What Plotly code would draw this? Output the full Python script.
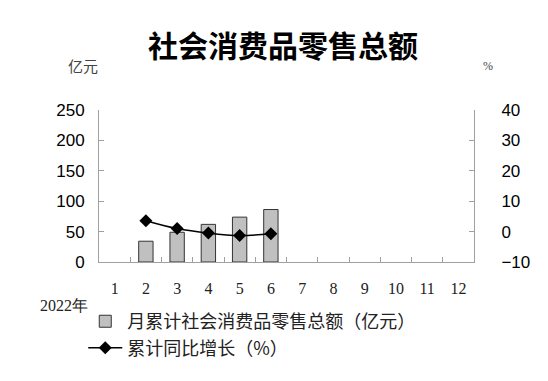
import plotly.graph_objects as go

months = ["1", "2", "3", "4", "5", "6", "7", "8", "9", "10", "11", "12"]
bar_months = ["2", "3", "4", "5", "6"]
retail_total = [34.2, 48.9, 61.9, 73.8, 86.3]   # 亿元
growth_rate = [3.6, 1.0, -0.5, -1.3, -0.7]      # %

title_text = "社会消费品零售总额"
bar_name = "月累计社会消费品零售总额（亿元）"
line_name = "累计同比增长（%）"

fig = go.Figure()
fig.add_trace(go.Bar(
    x=bar_months, y=retail_total, name=bar_name,
    marker=dict(color="#c0c0c0", line=dict(color="#333333", width=1)),
    width=0.46, yaxis="y",
))
fig.add_trace(go.Scatter(
    x=bar_months, y=growth_rate, name=line_name, mode="lines+markers",
    line=dict(color="black", width=1.5, shape="spline"),
    marker=dict(symbol="diamond", size=10, color="black"),
    yaxis="y2",
))

axis_gray = "#a0a0a0"
fig.update_layout(
    width=548, height=381,
    paper_bgcolor="white", plot_bgcolor="white",
    margin=dict(l=91, r=82, t=102, b=127),
    showlegend=True,
    legend=dict(
        x=-0.042, y=-0.27, xref="paper", yref="paper", xanchor="left", yanchor="top",
        orientation="v", bgcolor="rgba(0,0,0,0)",
        font=dict(family="Noto Sans CJK SC", size=18, color="#222222"),
        itemwidth=34, tracegroupgap=0, traceorder="normal",
    ),
    title=dict(
        text=title_text, x=0.502, xanchor="center", y=0.898, yanchor="middle",
        font=dict(family="Noto Sans CJK SC", size=30, color="black", weight="bold"),
    ),
    xaxis=dict(
        type="category", categoryorder="array", categoryarray=months,
        range=[-0.5, 11.5], showgrid=False, zeroline=False,
        showline=True, linecolor=axis_gray, linewidth=1,
        ticks="inside", tickson="boundaries", ticklen=5, tickcolor=axis_gray,
        tickfont=dict(family="Liberation Serif", size=16, color="#222222"),
        ticklabelstandoff=12,
    ),
    yaxis=dict(
        range=[0, 250], dtick=50, tick0=0, showgrid=False, zeroline=False,
        showline=True, linecolor=axis_gray, linewidth=1,
        ticks="inside", ticklen=5, tickcolor=axis_gray,
        tickfont=dict(family="Liberation Sans", size=17, color="black"),
        ticklabelstandoff=10,
    ),
    yaxis2=dict(
        range=[-10, 40], dtick=10, tick0=0, overlaying="y", side="right",
        showgrid=False, zeroline=False,
        showline=True, linecolor=axis_gray, linewidth=1,
        ticks="inside", ticklen=5, tickcolor=axis_gray,
        tickfont=dict(family="Liberation Sans", size=17, color="black"),
        ticklabelstandoff=23,
    ),
    annotations=[
        dict(text="亿元", xref="paper", yref="paper", x=-0.043, y=1.296,
             xanchor="center", yanchor="middle", showarrow=False,
             font=dict(family="Noto Sans CJK SC", size=15, color="#444444")),
        dict(text="%", xref="paper", yref="paper", x=1.037, y=1.29,
             xanchor="center", yanchor="middle", showarrow=False,
             font=dict(family="Liberation Serif", size=12, color="#444444")),
        dict(text="2022年", xref="paper", yref="paper", x=-0.162, y=-0.285,
             xanchor="left", yanchor="middle", showarrow=False,
             font=dict(family="Liberation Serif", size=16, color="#222222")),
    ],
)

fig.write_html("out.html")
